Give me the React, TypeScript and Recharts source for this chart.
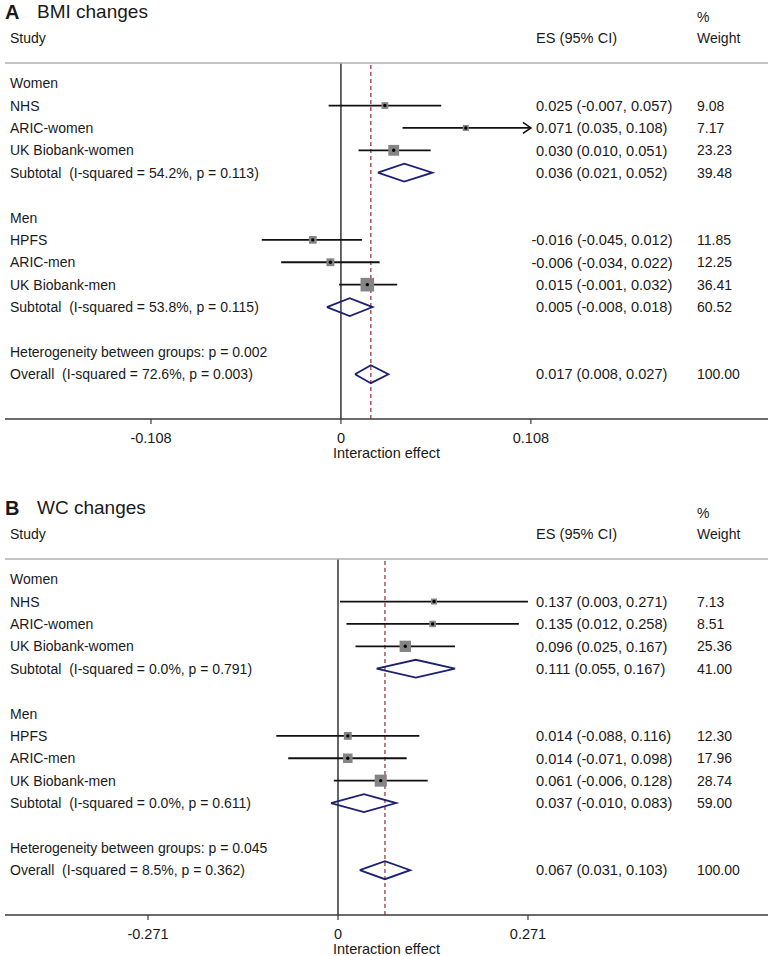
import React from 'react';
import { ComposedChart, Line, Scatter, XAxis, YAxis, ReferenceLine } from 'recharts';

const FONT = "'Liberation Sans', Arial, Helvetica, sans-serif";
const INK = '#1a1a1a';
const NAVY = '#1b2170';

const groupNames = ['Women', 'Men'];

// A: BMI changes
const bmiStudy = ['NHS', 'ARIC-women', 'UK Biobank-women', 'HPFS', 'ARIC-men', 'UK Biobank-men'];
const bmiGroupOf = [0, 0, 0, 1, 1, 1];
const bmiES = [0.025, 0.071, 0.03, -0.016, -0.006, 0.015];
const bmiLo = [-0.007, 0.035, 0.01, -0.045, -0.034, -0.001];
const bmiHi = [0.057, 0.108, 0.051, 0.012, 0.022, 0.032];
const bmiWeight = [9.08, 7.17, 23.23, 11.85, 12.25, 36.41];
const bmiClipped = [false, true, false, false, false, false];
const bmiSubES = [0.036, 0.005];
const bmiSubLo = [0.021, -0.008];
const bmiSubHi = [0.052, 0.018];
const bmiSubWeight = [39.48, 60.52];
const bmiSubI2 = ['54.2%', '53.8%'];
const bmiSubP = ['0.113', '0.115'];
const bmiOverall = [0.017, 0.008, 0.027];
const bmiOverallStats = ['72.6%', '0.003'];
const bmiHetP = '0.002';
const bmiTicks = [-0.108, 0, 0.108];

// B: WC changes
const wcStudy = ['NHS', 'ARIC-women', 'UK Biobank-women', 'HPFS', 'ARIC-men', 'UK Biobank-men'];
const wcGroupOf = [0, 0, 0, 1, 1, 1];
const wcES = [0.137, 0.135, 0.096, 0.014, 0.014, 0.061];
const wcLo = [0.003, 0.012, 0.025, -0.088, -0.071, -0.006];
const wcHi = [0.271, 0.258, 0.167, 0.116, 0.098, 0.128];
const wcWeight = [7.13, 8.51, 25.36, 12.3, 17.96, 28.74];
const wcClipped = [false, false, false, false, false, false];
const wcSubES = [0.111, 0.037];
const wcSubLo = [0.055, -0.01];
const wcSubHi = [0.167, 0.083];
const wcSubWeight = [41.0, 59.0];
const wcSubI2 = ['0.0%', '0.0%'];
const wcSubP = ['0.791', '0.611'];
const wcOverall = [0.067, 0.031, 0.103];
const wcOverallStats = ['8.5%', '0.362'];
const wcHetP = '0.045';
const wcTicks = [-0.271, 0, 0.271];

const f3 = (v: number) => v.toFixed(3);
const esText = (e: number, l: number, h: number) => `${f3(e)} (${f3(l)}, ${f3(h)})`;

function buildPanel(d: any) {
  const texts: any[] = [];
  const cis: any[] = [];
  const squares: any[] = [];
  const diamonds: any[] = [];
  let r = 0;
  groupNames.forEach((g, gi) => {
    texts.push({ x: 0, y: r, label: g });
    r++;
    d.study.forEach((s: string, i: number) => {
      if (d.groupOf[i] !== gi) return;
      texts.push({ x: 0, y: r, label: s, es: esText(d.es[i], d.lo[i], d.hi[i]), w: d.weight[i].toFixed(2) });
      cis.push({ row: r, lo: d.lo[i], hi: d.hi[i], arrow: d.clipped[i] });
      squares.push({ x: d.es[i], y: r, w: d.weight[i] });
      r++;
    });
    texts.push({
      x: 0,
      y: r,
      label: `Subtotal  (I-squared = ${d.subI2[gi]}, p = ${d.subP[gi]})`,
      es: esText(d.subES[gi], d.subLo[gi], d.subHi[gi]),
      w: d.subWeight[gi].toFixed(2),
    });
    diamonds.push({ row: r, es: d.subES[gi], lo: d.subLo[gi], hi: d.subHi[gi] });
    r += 2;
  });
  texts.push({ x: 0, y: r, label: `Heterogeneity between groups: p = ${d.hetP}` });
  r++;
  texts.push({
    x: 0,
    y: r,
    label: `Overall  (I-squared = ${d.overallStats[0]}, p = ${d.overallStats[1]})`,
    es: esText(d.overall[0], d.overall[1], d.overall[2]),
    w: '100.00',
  });
  diamonds.push({ row: r, es: d.overall[0], lo: d.overall[1], hi: d.overall[2] });
  return { texts, cis, squares, diamonds };
}

const SquareMark = (p: any) => {
  const { cx, cy, payload } = p;
  const s = 2.25 * Math.sqrt(payload.w);
  return (
    <g>
      <rect x={cx - s / 2} y={cy - s / 2} width={s} height={s} fill="#858585" />
      <circle cx={cx} cy={cy} r={1.7} fill="#000" />
    </g>
  );
};

const TextRow = (p: any) => {
  const { cy, payload } = p;
  const neg = payload.es && payload.es.startsWith('-');
  return (
    <g fontFamily={FONT} fontSize={14} fill={INK}>
      <text x={10} y={cy} dy="0.36em" style={{ whiteSpace: 'pre' }}>
        {payload.label}
      </text>
      {payload.es && (
        <text x={neg ? 531.5 : 536} y={cy} dy="0.36em" fontSize={14.6}>
          {payload.es}
        </text>
      )}
      {payload.w && (
        <text x={697} y={cy} dy="0.36em">
          {payload.w}
        </text>
      )}
    </g>
  );
};

const ArrowDot = (p: any) => {
  const { cx, cy, index } = p;
  if (index !== 1) return <g key={index} />;
  return (
    <path key={index} d={`M${cx - 8},${cy - 5.5} L${cx},${cy} L${cx - 8},${cy + 5.5}`} fill="none" stroke="#111" strokeWidth={1.6} />
  );
};

function Panel({ letter, title, data, ticks, domain, top }: any) {
  const { texts, cis, squares, diamonds } = buildPanel(data);
  const tickFmt = (v: number) => (v === 0 ? '0' : v.toFixed(3));
  return (
    <div style={{ position: 'absolute', left: 0, top, width: 768, height: 464 }}>
      <ComposedChart width={768} height={464} margin={{ top: 63, right: 0, bottom: 6, left: 5 }}>
        <XAxis
          type="number"
          dataKey="x"
          domain={domain}
          ticks={ticks}
          allowDataOverflow
          tickFormatter={tickFmt}
          axisLine={{ stroke: '#3a3a3a', strokeWidth: 1.5 }}
          tickLine={{ stroke: '#3a3a3a', strokeWidth: 1.2 }}
          tickSize={5}
          tickMargin={9}
          tick={{ fill: INK, fontSize: 14.5, fontFamily: FONT }}
          height={39}
          label={{ value: 'Interaction effect', position: 'insideBottom', offset: 0, fill: INK, fontSize: 14.5, fontFamily: FONT }}
        />
        <YAxis type="number" dataKey="y" domain={[-0.9, 15]} reversed hide allowDataOverflow />
        <ReferenceLine x={0} stroke="#000" strokeWidth={1.2} />
        <ReferenceLine x={data.overall[0]} stroke="#9b2a2f" strokeWidth={1.2} strokeDasharray="4 3" />
        {cis.map((c: any, i: number) => (
          <Line
            key={`ci${i}`}
            data={[{ x: c.lo, y: c.row }, { x: c.hi, y: c.row }]}
            dataKey="y"
            type="linear"
            stroke="#111"
            strokeWidth={1.8}
            dot={c.arrow ? (ArrowDot as any) : false}
            activeDot={false}
            legendType="none"
            isAnimationActive={false}
          />
        ))}
        <Scatter data={squares} shape={(p: any) => <SquareMark {...p} />} isAnimationActive={false} />
        {diamonds.map((dm: any, i: number) => (
          <Line
            key={`dm${i}`}
            data={[
              { x: dm.lo, y: dm.row },
              { x: dm.es, y: dm.row - 0.4 },
              { x: dm.hi, y: dm.row },
              { x: dm.es, y: dm.row + 0.4 },
              { x: dm.lo, y: dm.row },
            ]}
            dataKey="y"
            type="linear"
            stroke={NAVY}
            strokeWidth={1.8}
            strokeLinejoin="miter"
            dot={false}
            activeDot={false}
            legendType="none"
            isAnimationActive={false}
          />
        ))}
        <Scatter data={texts} shape={(p: any) => <TextRow {...p} />} isAnimationActive={false} />
      </ComposedChart>
      <svg width={768} height={70} style={{ position: 'absolute', left: 0, top: 0, pointerEvents: 'none' }}>
        <g fontFamily={FONT} fill={INK}>
          <text x={5} y={19} fontSize={20} fontWeight="bold">
            {letter}
          </text>
          <text x={37} y={18} fontSize={19}>
            {title}
          </text>
          <text x={697} y={22} fontSize={14}>
            %
          </text>
          <text x={10} y={43} fontSize={14}>
            Study
          </text>
          <text x={536} y={43} fontSize={14.6}>
            ES (95% CI)
          </text>
          <text x={697} y={43} fontSize={14}>
            Weight
          </text>
        </g>
        <line x1={5} y1={63} x2={768} y2={63} stroke="#b0b0b0" strokeWidth={1.5} />
      </svg>
    </div>
  );
}

const bmiData = {
  study: bmiStudy, groupOf: bmiGroupOf, es: bmiES, lo: bmiLo, hi: bmiHi, weight: bmiWeight, clipped: bmiClipped,
  subES: bmiSubES, subLo: bmiSubLo, subHi: bmiSubHi, subWeight: bmiSubWeight, subI2: bmiSubI2, subP: bmiSubP,
  overall: bmiOverall, overallStats: bmiOverallStats, hetP: bmiHetP,
};
const wcData = {
  study: wcStudy, groupOf: wcGroupOf, es: wcES, lo: wcLo, hi: wcHi, weight: wcWeight, clipped: wcClipped,
  subES: wcSubES, subLo: wcSubLo, subHi: wcSubHi, subWeight: wcSubWeight, subI2: wcSubI2, subP: wcSubP,
  overall: wcOverall, overallStats: wcOverallStats, hetP: wcHetP,
};

export default function App() {
  return (
    <div style={{ position: 'absolute', left: 0, top: 0, width: 768, height: 956, background: '#fff', overflow: 'hidden' }}>
      <Panel letter="A" title="BMI changes" data={bmiData} ticks={bmiTicks} domain={[-0.191, 0.2428]} top={0} />
      <Panel letter="B" title="WC changes" data={wcData} ticks={wcTicks} domain={[-0.475, 0.6134]} top={496} />
    </div>
  );
}
